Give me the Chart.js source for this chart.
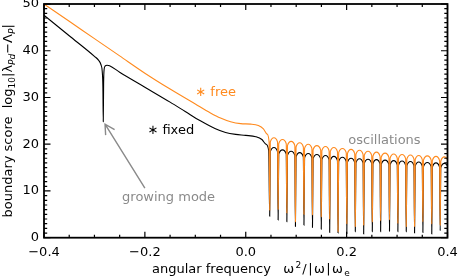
<!DOCTYPE html>
<html>
<head>
<meta charset="utf-8">
<script src="https://cdn.jsdelivr.net/npm/chart.js@4/dist/chart.umd.min.js"></script>
<style>
html,body{margin:0;padding:0;background:#fff;}
canvas{display:block;}
</style>
</head>
<body>
<canvas id="c" width="458" height="278"></canvas>
<script>
// ---- data ----
const freeSmoothX = [-0.4, -0.35, -0.3, -0.25, -0.2, -0.15, -0.1, -0.07, -0.05, -0.03, -0.01, 0.01, 0.025, 0.035, 0.042, 0.0463];
const freeSmoothY = [50.0, 46.3, 42.6, 38.9, 35.2, 31.8, 28.6, 26.7, 25.6, 24.8, 24.4, 24.3, 24.0, 23.3, 22.2, 20.5];

const fixedSmoothX = [-0.4, -0.35, -0.3, -0.292, -0.287, -0.2845, -0.2832, -0.2825, -0.2818, -0.2808, -0.279, -0.275, -0.27, -0.25, -0.2, -0.15, -0.12, -0.09, -0.06, -0.04, -0.02, 0.0, 0.02, 0.032, 0.04, 0.0455];
const fixedSmoothY = [47.6, 43.2, 38.8, 38.0, 37.0, 35.5, 32.0, 24.8, 33.0, 36.0, 36.7, 36.9, 36.8, 35.4, 32.2, 29.0, 27.0, 25.0, 23.3, 22.5, 22.1, 21.9, 21.6, 21.0, 20.0, 18.6];

// oscillation region: spike, left shoulder, arch top, right shoulder (per period)
const oscX = [
  0.0475, 0.0487, 0.0559, 0.0630,
  0.0642, 0.0654, 0.0729, 0.0803,
  0.0815, 0.0827, 0.0900, 0.0973,
  0.0985, 0.0997, 0.1070, 0.1142,
  0.1154, 0.1166, 0.1239, 0.1311,
  0.1323, 0.1335, 0.1410, 0.1485,
  0.1497, 0.1509, 0.1581, 0.1652,
  0.1664, 0.1676, 0.1747, 0.1818,
  0.1830, 0.1842, 0.1917, 0.1992,
  0.2004, 0.2016, 0.2088, 0.2160,
  0.2172, 0.2184, 0.2255, 0.2326,
  0.2338, 0.2350, 0.2424, 0.2497,
  0.2509, 0.2521, 0.2592, 0.2662,
  0.2674, 0.2686, 0.2762, 0.2838,
  0.2850, 0.2862, 0.2933, 0.3004,
  0.3016, 0.3028, 0.3099, 0.3170,
  0.3182, 0.3194, 0.3265, 0.3335,
  0.3347, 0.3359, 0.3430, 0.3500,
  0.3512, 0.3524, 0.3600, 0.3676,
  0.3688, 0.3700, 0.3772, 0.3843,
  0.3855, 0.3867, 0.3939, 0.4011,
  0.4023
];
const freeOscY = [
  5.9, 20.5, 21.4, 20.5,
  6.1, 20.1, 21.0, 20.1,
  5.3, 19.7, 20.6, 19.7,
  3.4, 19.4, 20.3, 19.4,
  5.0, 19.1, 20.0, 19.1,
  4.9, 18.8, 19.7, 18.8,
  4.5, 18.6, 19.5, 18.6,
  4.0, 18.4, 19.3, 18.4,
  1.3, 18.2, 19.1, 18.2,
  3.0, 18.0, 18.9, 18.0,
  2.4, 17.8, 18.7, 17.8,
  2.7, 17.6, 18.5, 17.6,
  3.4, 17.4, 18.3, 17.4,
  3.6, 17.2, 18.1, 17.2,
  3.8, 17.0, 17.9, 17.0,
  3.1, 16.9, 17.8, 16.9,
  2.4, 16.8, 17.7, 16.8,
  2.4, 16.7, 17.6, 16.7,
  3.4, 16.6, 17.5, 16.6,
  2.9, 16.5, 17.4, 16.5,
  2.7, 16.4, 17.3, 16.4,
  3.0
];
const fixedOscY = [
  4.6, 18.4, 19.3, 18.4,
  3.8, 17.9, 18.8, 17.9,
  3.4, 17.6, 18.5, 17.6,
  2.4, 17.3, 18.2, 17.3,
  2.7, 17.1, 18.0, 17.1,
  2.2, 16.9, 17.8, 16.9,
  1.8, 16.7, 17.6, 16.7,
  1.1, 16.5, 17.4, 16.5,
  1.0, 16.3, 17.2, 16.3,
  0.9, 16.1, 17.0, 16.1,
  1.3, 16.0, 16.9, 16.0,
  0.8, 15.9, 16.8, 15.9,
  1.3, 15.8, 16.7, 15.8,
  1.3, 15.7, 16.6, 15.7,
  1.4, 15.6, 16.5, 15.6,
  1.3, 15.5, 16.4, 15.5,
  1.3, 15.4, 16.3, 15.4,
  1.0, 15.3, 16.2, 15.3,
  1.1, 15.2, 16.1, 15.2,
  0.8, 15.1, 16.0, 15.1,
  1.5, 15.0, 15.9, 15.0,
  1.0
];

const xTickValues = [-0.4, -0.2, 0.0, 0.2, 0.4];
const yTickValues = [0, 10, 20, 30, 40, 50];

// annotation anchors (data coordinates)
const freeLabelPos = {x: -0.1, y: 30.4};
const fixedLabelPos = {x: -0.195, y: 22.2};
const growingLabelPos = {x: -0.153, y: 7.8};
const oscLabelPos = {x: 0.275, y: 20.0};
const arrowTail = {x: -0.2, y: 10.6};
const arrowTip = {x: -0.279, y: 24.3};

// ---- build points ----
const toPts = (xs, ys) => xs.map((x, i) => ({x: x, y: ys[i]}));
const freePts = toPts(freeSmoothX.concat(oscX), freeSmoothY.concat(freeOscY));
const fixedPts = toPts(fixedSmoothX.concat(oscX), fixedSmoothY.concat(fixedOscY));

const FONT = '"DejaVu Sans", sans-serif';
const ORANGE = '#ff8a1e';
const GRAY = '#8a8a8a';

function drawRich(ctx, segs, x, y, align) {
  let w = 0;
  const parts = segs.map(s => {
    const size = (s.sub || s.sup) ? 9 : 13;
    const font = (s.it ? 'italic ' : '') + size + 'px ' + FONT;
    ctx.font = font;
    const ls = s.ls || 0;
    const mw = ctx.measureText(s.t).width + ls * s.t.length;
    w += mw;
    return {s, font, mw, ls};
  });
  let cx = align === 'center' ? x - w / 2 : x;
  ctx.textAlign = 'left';
  ctx.textBaseline = 'alphabetic';
  for (const p of parts) {
    ctx.font = p.font;
    const dy = p.s.sub ? 3 : (p.s.sup ? -5 : 0);
    if (p.ls) {
      let ox = cx;
      for (const ch of p.s.t) {
        ctx.fillText(ch, ox, y + dy);
        ox += ctx.measureText(ch).width + p.ls;
      }
    } else {
      ctx.fillText(p.s.t, cx, y + dy);
    }
    cx += p.mw;
  }
}

const decor = {
  id: 'decor',
  afterDraw(chart) {
    const ctx = chart.ctx;
    const a = chart.chartArea;
    const xs = chart.scales.x, ys = chart.scales.y;
    ctx.save();
    // frame
    ctx.strokeStyle = '#000';
    ctx.lineWidth = 1.8;
    ctx.strokeRect(a.left, a.top, a.right - a.left, a.bottom - a.top);
    // ticks (inward, all four sides)
    ctx.lineWidth = 1.2;
    ctx.beginPath();
    for (let i = -8; i <= 8; i++) {
      const v = i * 0.05;
      const px = xs.getPixelForValue(v);
      const len = (i % 4 === 0) ? 6 : 3;
      ctx.moveTo(px, a.bottom); ctx.lineTo(px, a.bottom - len);
      ctx.moveTo(px, a.top); ctx.lineTo(px, a.top + len);
    }
    for (let v = 0; v <= 50; v++) {
      const py = ys.getPixelForValue(v);
      const len = (v % 10 === 0) ? 6.5 : 3.2;
      ctx.moveTo(a.left, py); ctx.lineTo(a.left + len, py);
      ctx.moveTo(a.right, py); ctx.lineTo(a.right - len, py);
    }
    ctx.stroke();

    // annotations
    ctx.fillStyle = ORANGE;
    drawRich(ctx, [{t: '\u2217 free'}], xs.getPixelForValue(freeLabelPos.x), ys.getPixelForValue(freeLabelPos.y), 'left');
    ctx.fillStyle = '#000';
    drawRich(ctx, [{t: '\u2217 fixed'}], xs.getPixelForValue(fixedLabelPos.x), ys.getPixelForValue(fixedLabelPos.y), 'left');
    ctx.fillStyle = GRAY;
    drawRich(ctx, [{t: 'growing mode'}], xs.getPixelForValue(growingLabelPos.x), ys.getPixelForValue(growingLabelPos.y), 'center');
    drawRich(ctx, [{t: 'oscillations'}], xs.getPixelForValue(oscLabelPos.x), ys.getPixelForValue(oscLabelPos.y), 'center');

    // arrow
    const tx = xs.getPixelForValue(arrowTail.x), ty = ys.getPixelForValue(arrowTail.y);
    const hx = xs.getPixelForValue(arrowTip.x), hy = ys.getPixelForValue(arrowTip.y);
    const ang = Math.atan2(hy - ty, hx - tx);
    ctx.strokeStyle = GRAY;
    ctx.lineWidth = 1.4;
    ctx.beginPath();
    ctx.moveTo(tx, ty); ctx.lineTo(hx, hy);
    const hl = 11, spread = 0.5;
    ctx.moveTo(hx - hl * Math.cos(ang - spread), hy - hl * Math.sin(ang - spread));
    ctx.lineTo(hx, hy);
    ctx.lineTo(hx - hl * Math.cos(ang + spread), hy - hl * Math.sin(ang + spread));
    ctx.stroke();

    // axis titles
    ctx.fillStyle = '#000';
    drawRich(ctx, [
      {t: 'angular frequency   '}, {t: '\u03c9', ls: 1.2}, {t: '2', sup: 1, ls: 1.2}, {t: '/|\u03c9|\u03c9', ls: 1.4}, {t: 'e', sub: 1}
    ], a.left + 108, 273, 'left');
    ctx.save();
    ctx.translate(11.5, (a.top + a.bottom) / 2);
    ctx.rotate(-Math.PI / 2);
    drawRich(ctx, [
      {t: 'boundary score  log'}, {t: '10', sub: 1}, {t: '|\u03bb'}, {t: 'Pd', sub: 1, it: 1},
      {t: '\u2212\u039b'}, {t: 'P', sub: 1, it: 1}, {t: '|'}
    ], 0, 0, 'center');
    ctx.restore();
    ctx.restore();
  }
};

new Chart(document.getElementById('c'), {
  type: 'line',
  data: {
    datasets: [
      {label: 'free', data: freePts, borderColor: ORANGE, borderWidth: 1.1, pointRadius: 0, cubicInterpolationMode: 'monotone', fill: false},
      {label: 'fixed', data: fixedPts, borderColor: '#000', borderWidth: 1.1, pointRadius: 0, cubicInterpolationMode: 'monotone', fill: false}
    ]
  },
  options: {
    responsive: false,
    animation: false,
    devicePixelRatio: 1,
    layout: {padding: {top: 4, right: 10.5, left: 0, bottom: 0}},
    plugins: {legend: {display: false}, tooltip: {enabled: false}},
    scales: {
      x: {
        type: 'linear', min: -0.4, max: 0.4,
        grid: {display: false, drawTicks: false},
        border: {display: false},
        afterBuildTicks: s => { s.ticks = xTickValues.map(v => ({value: v})); },
        ticks: {
          font: {family: FONT, size: 13}, color: '#000', padding: 7, maxRotation: 0, autoSkip: false,
          callback: v => Math.abs(v) < 1e-9 ? '0.0' : (v < 0 ? '\u2212' : '') + Math.abs(v).toFixed(1)
        },
        afterFit: s => { s.height = 40.3; s.paddingLeft = 0; s.paddingRight = 0; }
      },
      y: {
        type: 'linear', min: 0, max: 50,
        grid: {display: false, drawTicks: false},
        border: {display: false},
        afterBuildTicks: s => { s.ticks = yTickValues.map(v => ({value: v})); },
        ticks: {font: {family: FONT, size: 13}, color: '#000', padding: 5, autoSkip: false},
        afterFit: s => { s.width = 44; s.paddingTop = 0; s.paddingBottom = 0; }
      }
    }
  },
  plugins: [decor]
});
</script>
</body>
</html>
